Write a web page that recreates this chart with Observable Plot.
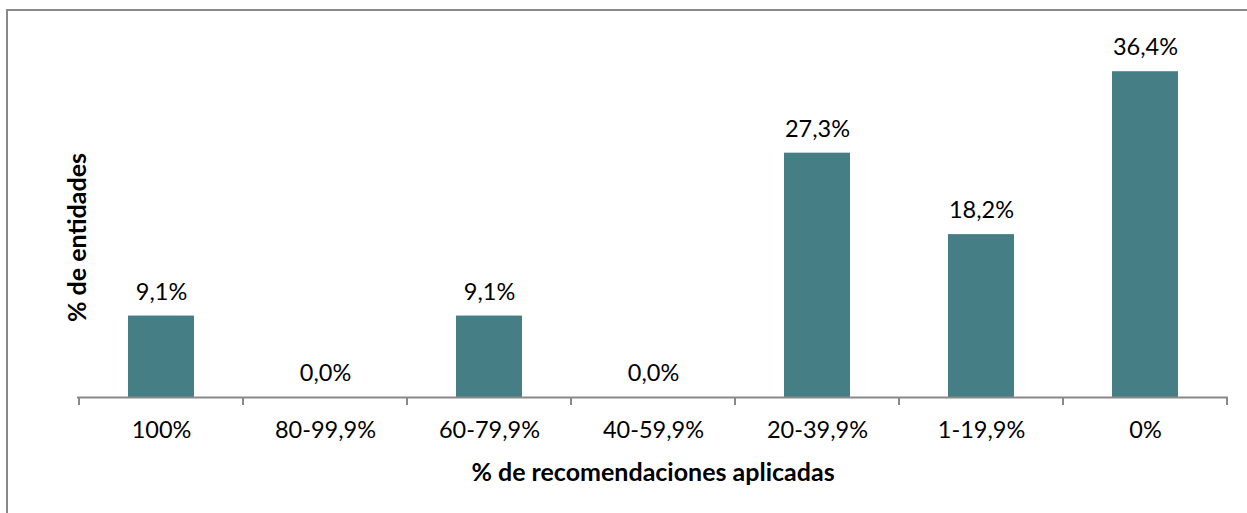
<!DOCTYPE html>
<html>
<head>
<meta charset="utf-8">
<script src="https://cdn.jsdelivr.net/npm/d3@7"></script>
<script src="https://cdn.jsdelivr.net/npm/@observablehq/plot@0.6"></script>
<style>
  html, body { margin: 0; padding: 0; background: #fff; }
  #wrap { position: relative; width: 1247px; height: 513px; overflow: hidden; }
  #frame { position: absolute; left: 6px; top: 9px; width: 1300px; height: 600px;
           border-left: 2px solid #898989; border-top: 2px solid #898989; pointer-events: none; }
</style>
</head>
<body>
<div id="wrap"><div id="frame"></div></div>
<script>
const categories = ["100%", "80-99,9%", "60-79,9%", "40-59,9%", "20-39,9%", "1-19,9%", "0%"];
const values = [9.1, 0.0, 9.1, 0.0, 27.3, 18.2, 36.4];
const xTitle = "% de recomendaciones aplicadas";
const yTitle = "% de entidades";

const data = categories.map((c, i) => ({cat: c, v: values[i]}));
const fmt = v => v.toFixed(1).replace(".", ",") + "%";
const font = "Lato, 'Open Sans', sans-serif";
const fs = 23.5;
const fsTitle = 25;

function boundaryTicks(index, scales, vals, dimensions) {
  const x = scales.x, y = scales.y;
  const y0 = y(0);
  const xs = categories.map(c => x(c));
  xs.push(x(categories[categories.length - 1]) + x.bandwidth());
  const g = d3.create("svg:g");
  g.selectAll("line").data(xs).join("line")
    .attr("x1", d => d).attr("x2", d => d)
    .attr("y1", y0).attr("y2", y0 + 8)
    .attr("stroke", "#898989").attr("stroke-width", 2);
  return g.node();
}

const chart = Plot.plot({
  width: 1247,
  height: 513,
  marginLeft: 77,
  marginRight: 19,
  marginTop: 39,
  marginBottom: 116,
  style: {fontFamily: font, fontSize: fs + "px", color: "#000", background: "transparent"},
  x: {domain: categories, padding: 0, axis: null},
  y: {domain: [0, 40], axis: null},
  marks: [
    Plot.barY(data, {x: "cat", y: "v", fill: "#457f85", insetLeft: 49, insetRight: 49}),
    Plot.ruleY([0], {stroke: "#898989", strokeWidth: 2}),
    boundaryTicks,
    Plot.text(data, {x: "cat", y: "v", text: d => fmt(d.v), dy: -24, lineAnchor: "middle",
                     fontSize: fs, fill: "#000"}),
    Plot.axisX({tickSize: 0, tickPadding: 24, fontSize: fs, label: null}),
    Plot.text([xTitle], {frameAnchor: "bottom", dy: 75, lineAnchor: "middle", textAnchor: "middle",
                         fontWeight: "bold", fontSize: fsTitle, fill: "#000"}),
    Plot.text([yTitle], {frameAnchor: "left", dx: 0, dy: 19, rotate: -90, lineAnchor: "middle",
                         textAnchor: "middle", fontWeight: "bold", fontSize: fsTitle, fill: "#000"})
  ]
});
chart.style.position = "absolute";
chart.style.left = "0px";
chart.style.top = "0px";
document.getElementById("wrap").insertBefore(chart, document.getElementById("frame"));
</script>
</body>
</html>
